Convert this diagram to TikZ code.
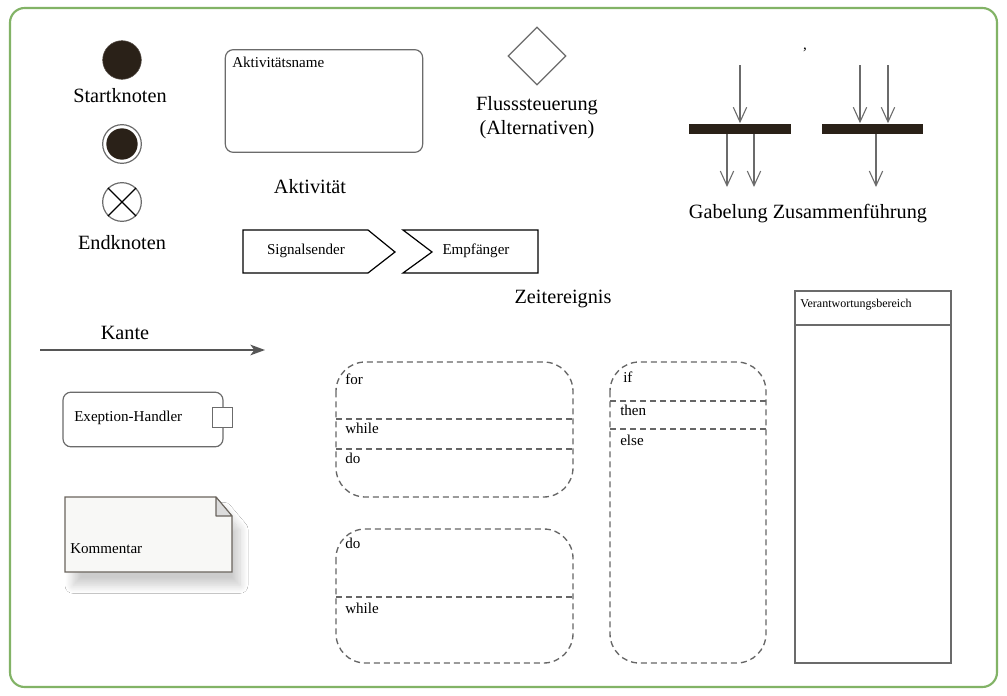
\documentclass[tikz,border=0pt]{standalone}
\usepackage{fontspec}
\setmainfont{Liberation Serif}
\usetikzlibrary{arrows.meta,shadows.blur,shapes.geometric}
\definecolor{frame}{HTML}{82B366}
\definecolor{stroke}{HTML}{6B6B6B}
\definecolor{dark}{HTML}{2A2118}
\definecolor{dashc}{HTML}{666666}
\definecolor{notefill}{HTML}{F8F8F6}
\definecolor{foldfill}{HTML}{DCDCDC}
\begin{document}
\begin{tikzpicture}[x=0.75pt,y=-0.75pt,
  big/.style={font=\fontsize{15.2}{19}\selectfont, inner sep=0pt},
  small/.style={font=\fontsize{11.3}{13}\selectfont, inner sep=0pt},
  tiny/.style={font=\fontsize{9}{11}\selectfont, inner sep=0pt},
  graybox/.style={draw=stroke, line width=0.9pt, fill=white},
  loopbox/.style={draw=dashc, line width=1pt, dash pattern=on 4.5pt off 3pt, rounded corners=22pt},
  loopline/.style={draw=dashc, line width=1pt, dash pattern=on 4.5pt off 3pt},
  vtip/.style={draw=stroke, line width=0.8pt, -{Straight Barb[length=11pt,width=10pt,line width=0.8pt]}},
  bar/.style={fill=dark, inner sep=0pt, minimum height=7.5pt}
]
\useasboundingbox (0,0) rectangle (1007,696);
\fill[white] (0,0) rectangle (1007,696);
\draw[frame, line width=1.6pt, rounded corners=11pt] (10,8) rectangle (997,687);

% start / end nodes
\node[circle, fill=dark, draw=dark!80, line width=0.4pt, minimum size=29pt, inner sep=0pt] (start) at (122,60) {};
\node[big, anchor=base] (startlbl) at (120,102) {Startknoten};
\node[circle, draw=stroke, line width=0.9pt, minimum size=29pt, inner sep=0pt] (final) at (122,144) {};
\node[circle, fill=dark, minimum size=23.5pt, inner sep=0pt] (finalin) at (122,144) {};
\node[circle, draw=stroke, line width=0.9pt, minimum size=29pt, inner sep=0pt] (flowfinal) at (122,202) {};
\draw[stroke, line width=0.9pt] (flowfinal.45) -- (flowfinal.225) (flowfinal.135) -- (flowfinal.315);
\node[big, anchor=base] (endlbl) at (122,249) {Endknoten};

% activity
\node[graybox, rounded corners=6pt, minimum width=148pt, minimum height=77pt, inner sep=0pt] (act) at (324,101) {};
\node[small, anchor=base west] (actname) at (232,67) {Aktivitätsname};
\node[big, anchor=base] (actlbl) at (310,193) {Aktivität};

% signals
\coordinate (s1) at (243,230); \coordinate (s2) at (368,230); \coordinate (s3) at (395,252);
\coordinate (s4) at (368,273); \coordinate (s5) at (243,273);
\draw[stroke, line width=0.9pt, line join=miter] (s1) -- (s2) -- (s3) -- (s4) -- (s5) -- cycle;
\node[small, anchor=base] (sender) at (306,254) {Signalsender};
\coordinate (r1) at (403,230); \coordinate (r2) at (538,230); \coordinate (r3) at (538,273);
\coordinate (r4) at (403,273); \coordinate (r5) at (432,252);
\draw[stroke, line width=0.9pt, line join=miter] (r1) -- (r2) -- (r3) -- (r4) -- (r5) -- cycle;
\node[small, anchor=base] (receiver) at (476,254) {Empfänger};
\node[big, anchor=base] (timelbl) at (563,303) {Zeitereignis};

% decision
\node[diamond, draw=stroke, line width=0.9pt, aspect=1, minimum width=43.5pt, minimum height=43.5pt, inner sep=0pt] (dec) at (537,56) {};
\node[big, anchor=base] (declbl1) at (537,110) {Flusssteuerung};
\node[big, anchor=base] (declbl2) at (537,134) {(Alternativen)};

% fork / join
\node[small, anchor=base] (comma) at (805,49) {,};
\node[bar, minimum width=76.5pt] (fork) at (740,128.5) {};
\node[bar, minimum width=76pt] (join) at (872.5,128.5) {};
\coordinate (fin) at (740,65);
\coordinate (fout1) at (727,187);
\coordinate (fout2) at (754,187);
\coordinate (jin1) at (860,65);
\coordinate (jin2) at (888,65);
\coordinate (jout) at (876,187);
\draw[vtip] (fin) -- (fin |- fork.north);
\draw[vtip] (fout1 |- fork.south) -- (fout1);
\draw[vtip] (fout2 |- fork.south) -- (fout2);
\draw[vtip] (jin1) -- (jin1 |- join.north);
\draw[vtip] (jin2) -- (jin2 |- join.north);
\draw[vtip] (jout |- join.south) -- (jout);
\node[big, anchor=base] (forklbl) at (808,218) {Gabelung Zusammenführung};

% edge
\coordinate (e1) at (40,350);
\coordinate (e2) at (265,350);
\draw[draw=stroke!80!black, line width=1.1pt, -{Stealth[length=11pt,width=8pt,inset=3pt]}] (e1) -- (e2);
\node[big, anchor=base] (edgelbl) at (125,339) {Kante};

% exception handler
\node[graybox, rounded corners=6pt, minimum width=120pt, minimum height=41pt, inner sep=0pt] (exc) at (143,419.5) {};
\node[graybox, minimum size=14.5pt, inner sep=0pt] (pin) at (222.5,417.5) {};
\node[small, anchor=base west] (exclbl) at (74,421) {Exeption-Handler};

% comment
\coordinate (n1) at (65,497); \coordinate (n2) at (216,497); \coordinate (n3) at (232,516);
\coordinate (n4) at (232,572); \coordinate (n5) at (65,572);
\draw[draw=dark!70, line width=0.8pt, fill=notefill,
  blur shadow={shadow xshift=6pt, shadow yshift=-10pt, shadow blur radius=6pt, shadow blur steps=12, shadow opacity=20}]
  (n1) -- (n2) -- (n3) -- (n4) -- (n5) -- cycle;
\draw[draw=dark!70, line width=0.8pt, fill=foldfill, line join=round] (n2) -- (216,516) -- (n3) -- cycle;
\node[small, anchor=base west] (notelbl) at (70,553) {Kommentar};

% for loop
\draw[loopbox] (336,362) rectangle (573,497);
\coordinate (fl1) at (336,419); \coordinate (fr1) at (573,419);
\coordinate (fl2) at (336,449); \coordinate (fr2) at (573,449);
\draw[loopline] (fl1) -- (fr1);
\draw[loopline] (fl2) -- (fr2);
\node[small, anchor=base west] (forlbl) at (345,384) {for};
\node[small, anchor=base west] (whilelbl) at (345,433) {while};
\node[small, anchor=base west] (dolbl) at (345,463) {do};

% do-while loop
\draw[loopbox] (336,529) rectangle (573,663);
\coordinate (dl) at (336,597); \coordinate (dr) at (573,597);
\draw[loopline] (dl) -- (dr);
\node[small, anchor=base west] (do2lbl) at (345,548) {do};
\node[small, anchor=base west] (while2lbl) at (345,613) {while};

% if then else
\draw[loopbox] (610,362) rectangle (766,663);
\coordinate (il1) at (610,401); \coordinate (ir1) at (766,401);
\coordinate (il2) at (610,429); \coordinate (ir2) at (766,429);
\draw[loopline] (il1) -- (ir1);
\draw[loopline] (il2) -- (ir2);
\node[small, anchor=base west] (iflbl) at (623,382) {if};
\node[small, anchor=base west] (thenlbl) at (620,415) {then};
\node[small, anchor=base west] (elselbl) at (620,445) {else};

% swimlane
\draw[draw=stroke, line width=1.1pt] (795,291) rectangle (951,663);
\coordinate (sl) at (795,325); \coordinate (sr) at (951,325);
\draw[draw=stroke, line width=1.1pt] (sl) -- (sr);
\node[tiny, anchor=base west] (lanelbl) at (800,307) {Verantwortungsbereich};
\end{tikzpicture}
\end{document}
